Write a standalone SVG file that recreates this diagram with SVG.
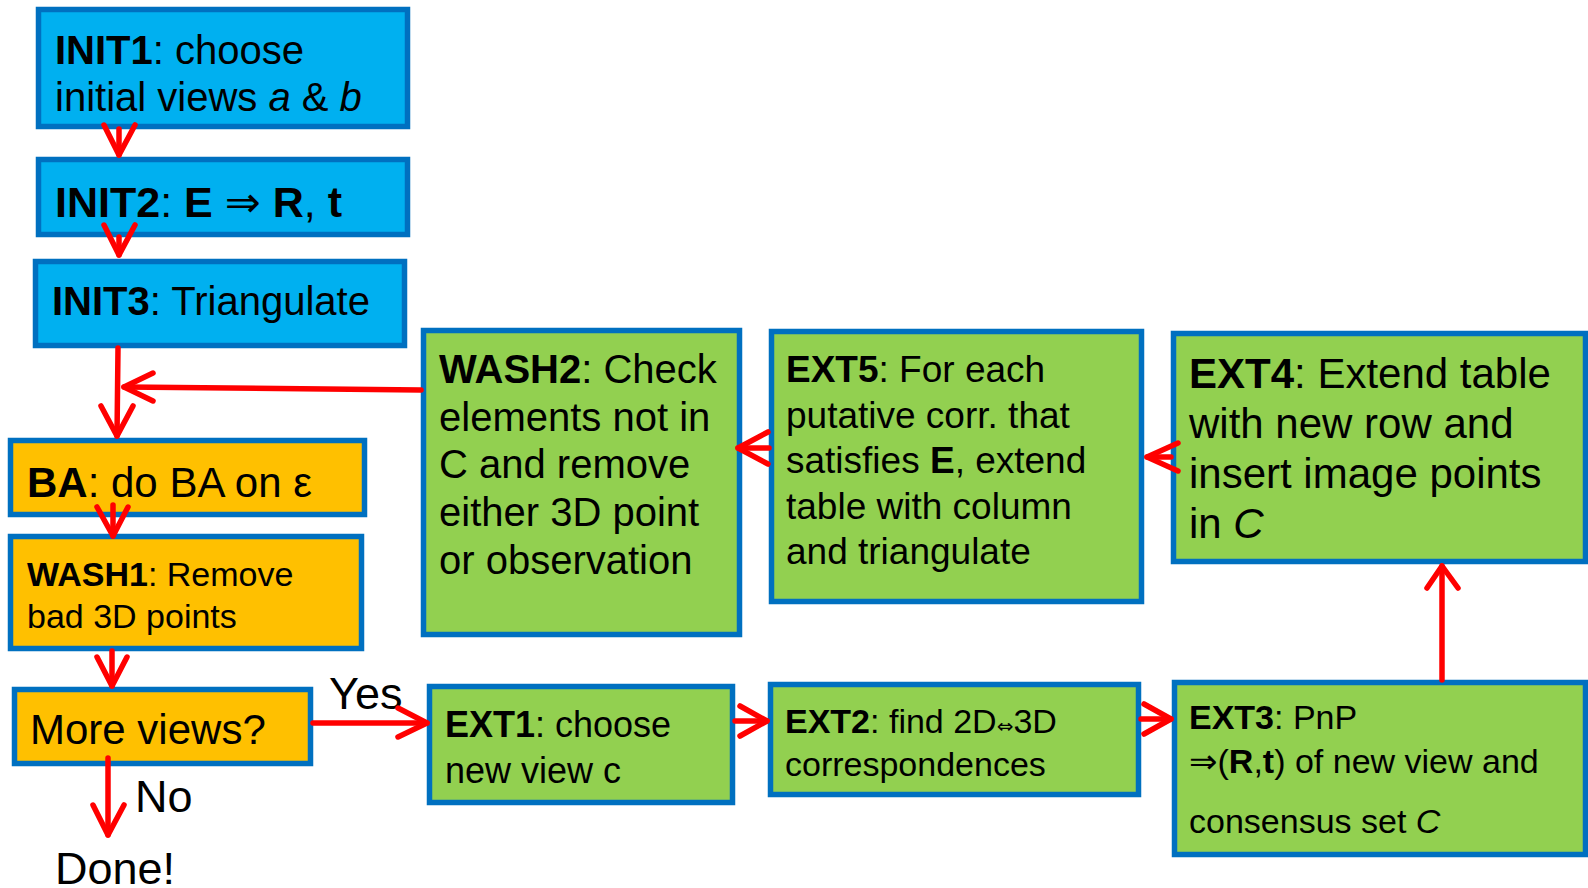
<svg xmlns="http://www.w3.org/2000/svg" width="1588" height="888" viewBox="0 0 1588 888">
<defs>
<style>
.box{stroke:#0070C0;stroke-width:5.5;}
.blue{fill:#00B0F0;}
.orange{fill:#FFC000;}
.green{fill:#92D050;}
text{font-family:"Liberation Sans","DejaVu Sans",Arial,sans-serif;fill:#000;}
.b{font-weight:bold;}
.i{font-style:italic;}
.c line,.c polyline{stroke:#FF0000;stroke-width:5.5;fill:none;stroke-linecap:round;stroke-linejoin:round;}
</style>
</defs>
<rect width="1588" height="888" fill="#FFFFFF"/>
<g id="INIT1">
<rect class="box blue" x="38.5" y="9.5" width="369" height="117"/>
<text x="55" y="64" font-size="40"><tspan class="b">INIT1</tspan>: choose</text>
<text x="55" y="110.5" font-size="40">initial views <tspan class="i">a</tspan> &amp; <tspan class="i">b</tspan></text>
</g>
<g id="INIT2">
<rect class="box blue" x="38.5" y="159.5" width="369" height="75"/>
<text x="55" y="217" font-size="43"><tspan class="b">INIT2</tspan>: <tspan class="b">E</tspan> ⇒ <tspan class="b">R</tspan>, <tspan class="b">t</tspan></text>
</g>
<g id="INIT3">
<rect class="box blue" x="35.5" y="261.5" width="369" height="84"/>
<text x="52" y="315" font-size="40"><tspan class="b">INIT3</tspan>: Triangulate</text>
</g>
<g id="BA">
<rect class="box orange" x="10.5" y="440.5" width="354" height="74"/>
<text x="27" y="497" font-size="42"><tspan class="b">BA</tspan>: do BA on ε</text>
</g>
<g id="WASH1">
<rect class="box orange" x="10.5" y="536.5" width="351" height="112"/>
<text x="27" y="586" font-size="34"><tspan class="b">WASH1</tspan>: Remove</text>
<text x="27" y="628" font-size="34">bad 3D points</text>
</g>
<g id="MORE">
<rect class="box orange" x="14.5" y="689.5" width="296" height="74"/>
<text x="30" y="744" font-size="42">More views?</text>
</g>
<g id="DONE">
<text x="55" y="884" font-size="45">Done!</text>
</g>
<g id="WASH2">
<rect class="box green" x="423.5" y="330.5" width="316" height="304"/>
<text x="439" y="383" font-size="40"><tspan class="b">WASH2</tspan>: Check</text>
<text x="439" y="431" font-size="40">elements not in</text>
<text x="439" y="478" font-size="40">C and remove</text>
<text x="439" y="526" font-size="40">either 3D point</text>
<text x="439" y="574" font-size="40">or observation</text>
</g>
<g id="EXT5">
<rect class="box green" x="771.5" y="331.5" width="370" height="270"/>
<text x="786" y="382" font-size="37"><tspan class="b">EXT5</tspan>: For each</text>
<text x="786" y="427.5" font-size="37">putative corr. that</text>
<text x="786" y="473" font-size="37">satisfies <tspan class="b">E</tspan>, extend</text>
<text x="786" y="518.5" font-size="37">table with column</text>
<text x="786" y="564" font-size="37">and triangulate</text>
</g>
<g id="EXT4">
<rect class="box green" x="1173.5" y="333.5" width="412" height="228"/>
<text x="1189" y="388" font-size="42"><tspan class="b">EXT4</tspan>: Extend table</text>
<text x="1189" y="438" font-size="42">with new row and</text>
<text x="1189" y="488" font-size="42">insert image points</text>
<text x="1189" y="538" font-size="42">in <tspan class="i">C</tspan></text>
</g>
<g id="EXT1">
<rect class="box green" x="429.5" y="686.5" width="303" height="116"/>
<text x="445" y="737" font-size="36"><tspan class="b">EXT1</tspan>: choose</text>
<text x="445" y="783" font-size="36">new view c</text>
</g>
<g id="EXT2">
<rect class="box green" x="770.5" y="684.5" width="368" height="110"/>
<text x="785" y="733" font-size="34"><tspan class="b">EXT2</tspan>: find 2D<tspan font-size="20" font-family="DejaVu Sans">⇔</tspan>3D</text>
<text x="785" y="776" font-size="34">correspondences</text>
</g>
<g id="EXT3">
<rect class="box green" x="1174.5" y="682.5" width="411" height="172"/>
<text x="1189" y="729" font-size="34"><tspan class="b">EXT3</tspan>: PnP</text>
<text x="1189" y="773" font-size="34">⇒(<tspan class="b">R</tspan>,<tspan class="b">t</tspan>) of new view and</text>
<text x="1189" y="833" font-size="34">consensus set <tspan class="i">C</tspan></text>
</g>
<g id="labels">
<text x="329" y="709" font-size="45">Yes</text>
<text x="135" y="812" font-size="45">No</text>
</g>
<g id="connectors" class="c">
<line x1="119" y1="129" x2="119" y2="155"/>
<polyline points="104,125 119,155 135,125"/>
<line x1="119" y1="237" x2="119" y2="255"/>
<polyline points="104,225 119,255 135,225"/>
<line x1="118" y1="348" x2="117" y2="436"/>
<polyline points="101,406 117,436 133,406"/>
<line x1="421" y1="390" x2="124" y2="387"/>
<polyline points="153,373 124,387 153,401"/>
<line x1="113" y1="505" x2="113" y2="536"/>
<polyline points="97,507 113,536 128,507"/>
<line x1="112" y1="651" x2="112" y2="686"/>
<polyline points="97,657 112,686 127,657"/>
<line x1="108" y1="758" x2="108" y2="835"/>
<polyline points="93,805 108,835 124,805"/>
<line x1="313" y1="723" x2="427" y2="723"/>
<polyline points="398,708 427,723 398,737"/>
<line x1="735" y1="721" x2="767" y2="721"/>
<polyline points="740,706 767,721 740,736"/>
<line x1="1141" y1="719" x2="1171" y2="719"/>
<polyline points="1144,704 1171,719 1144,734"/>
<line x1="1442" y1="680" x2="1442" y2="566"/>
<polyline points="1427,588 1442,566 1458,588"/>
<line x1="1171" y1="457" x2="1147" y2="457"/>
<polyline points="1178,443 1147,457 1178,471"/>
<line x1="769" y1="448" x2="738" y2="448"/>
<polyline points="768,432 738,448 768,464"/>
</g>
</svg>
